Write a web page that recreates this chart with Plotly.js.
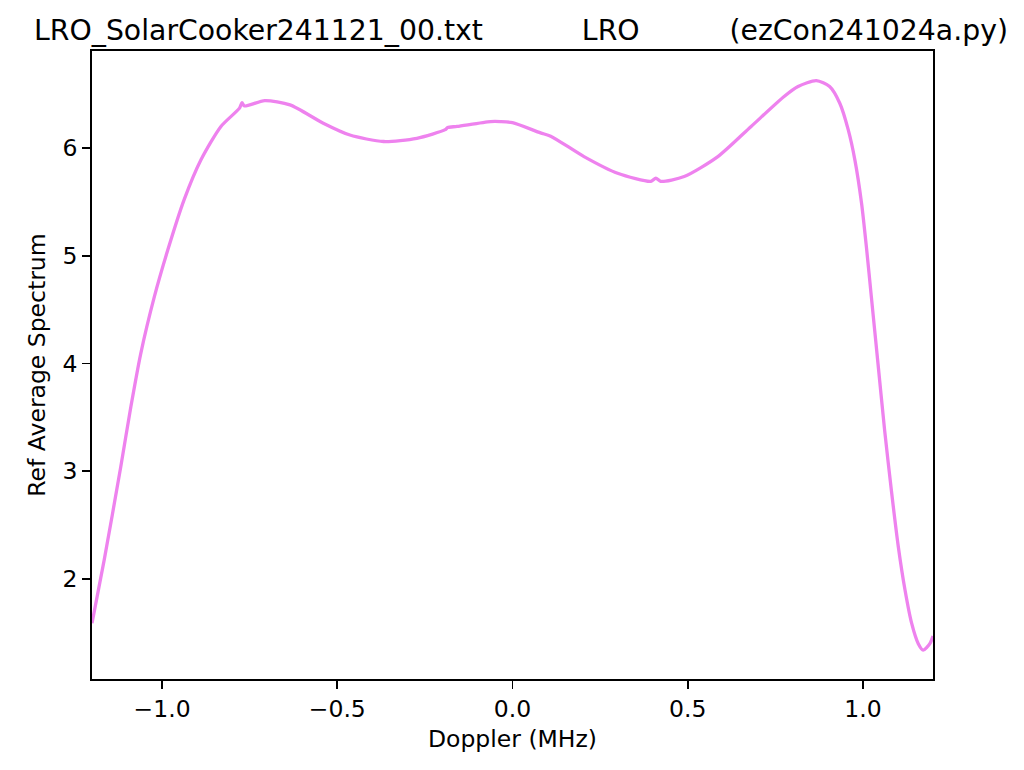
<!DOCTYPE html>
<html>
<head>
<meta charset="utf-8">
<script src="https://cdn.plot.ly/plotly-3.0.1.min.js"></script>
<style>html,body{margin:0;padding:0;background:#fff;}#chart{width:1024px;height:770px;}</style>
</head>
<body>
<div id="chart"></div>
<script>
const dopplerMHz = [-1.2, -1.165, -1.118, -1.089, -1.061, -1.022, -0.984, -0.937, -0.889, -0.832, -0.779, -0.772, -0.765, -0.707, -0.635, -0.540, -0.464, -0.368, -0.273, -0.192, -0.185, -0.158, -0.063, -0.034, 0.000, 0.080, 0.109, 0.204, 0.300, 0.395, 0.409, 0.423, 0.490, 0.586, 0.681, 0.776, 0.815, 0.867, 0.905, 0.934, 0.958, 0.977, 0.996, 1.010, 1.024, 1.043, 1.062, 1.082, 1.101, 1.120, 1.139, 1.158, 1.172, 1.191, 1.2];
const refAvgSpectrum = [1.59, 2.18, 3.04, 3.60, 4.09, 4.62, 5.05, 5.52, 5.89, 6.20, 6.37, 6.42, 6.39, 6.44, 6.40, 6.23, 6.12, 6.06, 6.09, 6.17, 6.19, 6.20, 6.245, 6.245, 6.235, 6.14, 6.11, 5.92, 5.765, 5.69, 5.72, 5.69, 5.735, 5.92, 6.20, 6.48, 6.57, 6.625, 6.57, 6.415, 6.17, 5.89, 5.49, 5.08, 4.62, 4.00, 3.38, 2.80, 2.30, 1.90, 1.59, 1.40, 1.34, 1.40, 1.47];
const xTicks = [-1.0, -0.5, 0.0, 0.5, 1.0];
const yTicks = [2, 3, 4, 5, 6];
const NB = '\u00A0';
const titleText = 'LRO_SolarCooker241121_00.txt' + NB.repeat(11) + 'LRO' + NB.repeat(10) + '(ezCon241024a.py)';

const font = 'DejaVu Sans, sans-serif';
const trace = {
  x: dopplerMHz, y: refAvgSpectrum, type: 'scatter', mode: 'lines',
  line: {color: 'violet', width: 3.3, shape: 'spline', smoothing: 0.7},
  hoverinfo: 'skip'
};
const axisCommon = {
  showgrid: false, zeroline: false, showline: true, mirror: true,
  linecolor: '#000', linewidth: 1.8, ticks: 'outside', ticklen: 8, tickwidth: 1.8,
  tickcolor: '#000', tickfont: {family: font, size: 23.5, color: '#000'}
};
const layout = {
  width: 1024, height: 770,
  margin: {l: 92, r: 91, t: 51, b: 91, pad: 0},
  paper_bgcolor: '#fff', plot_bgcolor: '#fff',
  showlegend: false,
  title: {text: titleText, font: {family: font, size: 28.3, color: '#000'},
          xref: 'container', x: 521/1024, xanchor: 'center', yref: 'container', y: 1 - 30/770, yanchor: 'middle'},
  xaxis: Object.assign({}, axisCommon, {
    range: [-1.2, 1.2], tickvals: xTicks, ticktext: xTicks.map(v => (v < 0 ? '\u2212' : '') + Math.abs(v).toFixed(1)),
    title: {text: 'Doppler (MHz)', font: {family: font, size: 23.5, color: '#000'}, standoff: 8}
  }),
  yaxis: Object.assign({}, axisCommon, {
    range: [1.072, 6.90], tickvals: yTicks, ticktext: yTicks.map(String),
    title: {text: 'Ref Average Spectrum', font: {family: font, size: 23.5, color: '#000'}, standoff: 10}
  })
};
Plotly.newPlot('chart', [trace], layout, {displayModeBar: false, staticPlot: true});
</script>
</body>
</html>
